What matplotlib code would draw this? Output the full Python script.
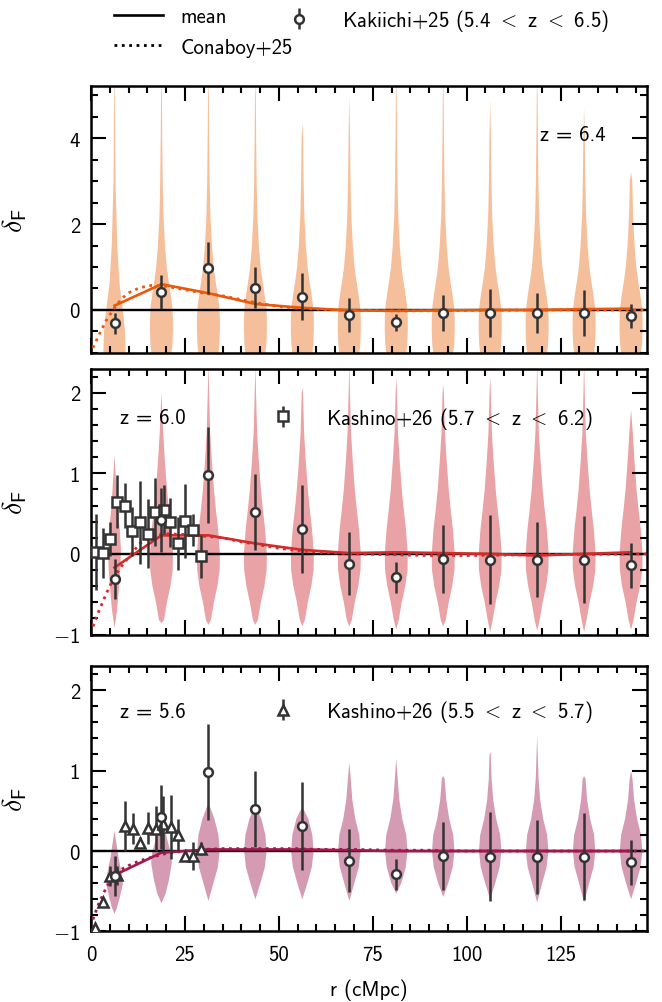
import numpy as np
import matplotlib
matplotlib.use("Agg")
import matplotlib.pyplot as plt
from matplotlib.ticker import MultipleLocator, FuncFormatter
from matplotlib.lines import Line2D

# ---------------------------------------------------------------- data
r_bins = [6.25, 18.75, 31.25, 43.75, 56.25, 68.75, 81.25, 93.75,
          106.25, 118.75, 131.25, 143.75]

# Kakiichi+25 (5.4 < z < 6.5)
kak_delta = [-0.31, 0.42, 0.98, 0.52, 0.31, -0.12, -0.29, -0.06,
             -0.07, -0.07, -0.07, -0.14]
kak_err = [0.25, 0.40, 0.60, 0.47, 0.55, 0.39, 0.19, 0.42,
           0.55, 0.46, 0.54, 0.28]

# Kashino+26 (5.7 < z < 6.2)
kas60_r = [1.2, 3.1, 5.1, 7.0, 9.1, 11.0, 13.1, 15.1, 17.0, 19.3,
           21.1, 23.1, 25.0, 27.1, 29.2]
kas60_delta = [0.02, 0.01, 0.18, 0.65, 0.60, 0.28, 0.39, 0.25, 0.52,
               0.55, 0.39, 0.13, 0.41, 0.30, -0.03]
kas60_err = [0.47, 0.31, 0.21, 0.33, 0.28, 0.30, 0.52, 0.43, 0.42,
             0.30, 0.30, 0.33, 0.46, 0.20, 0.27]

# Kashino+26 (5.5 < z < 5.7)
kas56_r = [1.1, 3.3, 5.1, 7.0, 9.1, 11.2, 13.1, 15.1, 17.2, 19.2,
           21.2, 23.1, 25.1, 27.1, 29.2]
kas56_delta = [-0.96, -0.63, -0.31, -0.30, 0.31, 0.28, 0.10, 0.29, 0.28,
               0.34, 0.30, 0.20, -0.06, -0.06, 0.03]
kas56_err = [0.05, 0.05, 0.12, 0.12, 0.31, 0.19, 0.08, 0.20, 0.28,
             0.35, 0.40, 0.20, 0.06, 0.17, 0.08]

# mean of the simulated distribution in each bin
mean_64 = [0.10, 0.60, 0.39, 0.14, 0.05, -0.01, -0.02, -0.01, 0.0, 0.0, 0.02, 0.03]
mean_60 = [-0.17, 0.23, 0.23, 0.13, 0.05, 0.01, 0.02, 0.01, 0.0, -0.02, 0.0, 0.02]
mean_56 = [-0.30, -0.02, 0.02, 0.02, 0.02, 0.01, 0.0, 0.0, 0.0, 0.0, 0.0, 0.0]

# Conaboy+25 model
con_r = [0.5, 2, 4, 6, 8, 10, 13, 16, 20, 25, 30, 35, 40, 45, 50, 55, 60,
         70, 80, 90, 100, 120, 148]
con_64 = [-0.88, -0.60, -0.25, 0.02, 0.25, 0.40, 0.52, 0.57, 0.55, 0.47, 0.39,
          0.33, 0.24, 0.15, 0.08, 0.04, 0.02, -0.01, -0.02, -0.02, -0.01, 0.0, 0.0]
con_60 = [-0.90, -0.72, -0.50, -0.30, -0.16, -0.04, 0.13, 0.22, 0.25, 0.24, 0.22,
          0.20, 0.15, 0.11, 0.07, 0.04, 0.02, 0.0, -0.01, -0.02, -0.02, -0.01, 0.0]
con_56 = [-0.85, -0.66, -0.46, -0.31, -0.23, -0.18, -0.12, -0.08, -0.03, 0.0, 0.02,
          0.03, 0.03, 0.03, 0.03, 0.03, 0.02, 0.02, 0.01, 0.01, 0.0, 0.0, 0.0]

# violin profiles: density (in width units) at delta_F levels
kde_lvl_64 = [-1.0, -0.8, -0.5, -0.2, 0.1, 0.4, 0.7, 1.0, 1.5, 2.2, 3.0, 4.0, 5.0]
kde_den_64 = [20, 22, 23, 23, 21.5, 18, 14, 10.5, 7, 4, 2.5, 1.5, 0.8]
kde_lvl_64_in = [-1.0, -0.5, -0.16, 0.62, 1.5, 3.0, 5.0]
kde_den_64_in = [22.3, 21, 18.3, 10, 5.5, 2.0, 0.7]
lo_64 = [-1.0] * 12
hi_64 = [5.4, 5.4, 5.4, 5.3, 4.35, 5.0, 5.4, 5.4, 4.9, 5.4, 4.7, 3.2]

kde_lvl_60 = [-0.82, -0.6, -0.4, -0.2, 0.0, 0.3, 0.55, 0.8, 1.17, 1.5, 2.0]
kde_den_60 = [5, 11, 18, 22.5, 23, 19.5, 15, 11, 6.7, 3.5, 1.3]
kde_lvl_60_in = [-0.7, -0.45, -0.2, 0.05, 0.3, 0.6, 0.9]
kde_den_60_in = [5, 8.5, 11.5, 13, 10.5, 6, 3]
lo_60 = [-0.92, -0.86, -0.88, -0.88, -0.9, -0.9, -0.94, -0.9, -0.97, -0.95, -0.97, -0.94]
hi_60 = [1.23, 2.0, 2.4, 2.35, 2.06, 2.4, 2.2, 2.1, 2.2, 2.4, 2.4, 1.79]

kde_lvl_56 = [-0.4, -0.2, 0.0, 0.2, 0.4, 0.64, 0.9, 1.2]
kde_den_56 = [10, 19, 22.5, 20, 12, 6, 2.8, 1.2]
kde_lvl_56_in = [-0.71, -0.59, -0.41, -0.29, -0.08, 0.13]
kde_den_56_in = [4.7, 10, 16.7, 14.7, 8, 3]
kde_lvl_56_b = [-0.53, -0.36, -0.15, -0.03, 0.14, 0.3]
kde_den_56_b = [8.3, 15, 20.7, 19, 11.7, 5]
lo_56 = [-0.78, -0.65, -0.62, -0.6, -0.6, -0.62, -0.53, -0.57, -0.6, -0.64, -0.64, -0.6]
hi_56 = [0.25, 0.5, 0.6, 0.56, 0.55, 1.1, 1.15, 0.93, 1.23, 1.44, 0.93, 1.0]

# ---------------------------------------------------------------- style
plt.rcParams.update({
    "font.family": ["cmss10", "DejaVu Sans"],
    "mathtext.fontset": "cm",
    "font.size": 15,
    "axes.linewidth": 1.8,
})

DARK = "#333333"
DENS_PER_CMPC = 3.76          # profile width units per cMpc


def tick_fmt(v, _):
    # math minus from the Computer Modern symbol font
    s = f"{abs(v):g}"
    return r"$-$" + s if v < 0 else s


panels = [
    dict(z="6.4", line="#e8590c", fill="#f5bf9b", mean=mean_64, con=con_64,
         prof=[(kde_lvl_64_in, kde_den_64_in)], gen=(kde_lvl_64, kde_den_64),
         lo=lo_64, hi=hi_64, ylim=(-1, 5.2), major=2, minor=0.5,
         pos=[0.1375, 0.6471, 0.8399, 0.2657]),
    dict(z="6.0", line="#d42a2a", fill="#e9a2a5", mean=mean_60, con=con_60,
         prof=[(kde_lvl_60_in, kde_den_60_in)], gen=(kde_lvl_60, kde_den_60),
         lo=lo_60, hi=hi_60, ylim=(-1, 2.3), major=1, minor=0.2,
         pos=[0.1375, 0.3664, 0.8399, 0.2652]),
    dict(z="5.6", line="#a3174f", fill="#d49bb3", mean=mean_56, con=con_56,
         prof=[(kde_lvl_56_in, kde_den_56_in), (kde_lvl_56_b, kde_den_56_b)],
         gen=(kde_lvl_56, kde_den_56),
         lo=lo_56, hi=hi_56, ylim=(-1, 2.3), major=1, minor=0.2,
         pos=[0.1375, 0.0703, 0.8399, 0.2647]),
]


def violin_stats(lvl, den, lo, hi, mean):
    lvl = np.asarray(lvl, float)
    den = np.asarray(den, float)
    keep = (lvl >= lo) & (lvl < hi)
    coords, vals = lvl[keep], den[keep]
    if coords[0] > lo:
        coords, vals = np.r_[lo, coords], np.r_[0.0, vals]
    coords, vals = np.r_[coords, hi], np.r_[vals, 0.0]
    return dict(coords=coords, vals=vals, mean=mean, median=mean,
                min=lo, max=hi)


fig = plt.figure(figsize=(6.62, 10.03), dpi=100)
axes = []
for i, p in enumerate(panels):
    ax = fig.add_axes(p["pos"])
    axes.append(ax)

    stats, widths = [], []
    for k in range(len(r_bins)):
        lvl, den = p["prof"][k] if k < len(p["prof"]) else p["gen"]
        s = violin_stats(lvl, den, p["lo"][k], p["hi"][k], p["mean"][k])
        stats.append(s)
        widths.append(s["vals"].max() / DENS_PER_CMPC)
    vp = ax.violin(stats, positions=r_bins, widths=widths,
                   showmeans=False, showextrema=False, showmedians=False)
    for body in vp["bodies"]:
        body.set_facecolor(p["fill"])
        body.set_edgecolor("none")
        body.set_linewidth(0)
        body.set_alpha(1)
        body.set_zorder(1)

    ax.axhline(0, color="black", lw=1.7, zorder=2)
    ax.plot(r_bins, p["mean"], color=p["line"], lw=1.9, zorder=3)
    ax.plot(con_r, p["con"], color=p["line"], lw=2.0, ls=":", zorder=3)

    if i == 1:
        kas = ax.errorbar(kas60_r, kas60_delta, yerr=kas60_err, fmt="s",
                          ms=6.5, mfc="white", mec=DARK, mew=1.8, ecolor=DARK,
                          elinewidth=1.8, capsize=0, zorder=4)
        lab = "Kashino+26 (5.7 $<$ z $<$ 6.2)"
    elif i == 2:
        kas = ax.errorbar(kas56_r, kas56_delta, yerr=kas56_err, fmt="^",
                          ms=7.5, mfc="white", mec=DARK, mew=1.8, ecolor=DARK,
                          elinewidth=1.8, capsize=0, zorder=4)
        lab = "Kashino+26 (5.5 $<$ z $<$ 5.7)"

    kak = ax.errorbar(r_bins, kak_delta, yerr=kak_err, fmt="o", ms=6.3,
                      mfc="white", mec=DARK, mew=1.8, ecolor=DARK,
                      elinewidth=1.8, capsize=0, zorder=5)

    if i == 0:
        ax.text(0.925, 0.818, "z = " + p["z"], transform=ax.transAxes,
                ha="right", va="center")
    else:
        ytxt = 0.815 if i == 1 else 0.83
        ax.text(0.052, ytxt, "z = " + p["z"], transform=ax.transAxes,
                ha="left", va="center")
        ax.legend([kas], [lab], loc="center left", frameon=False,
                  bbox_to_anchor=(0.302, ytxt), borderaxespad=0, borderpad=0,
                  handlelength=2.35, handletextpad=0.85)

    ax.set_xlim(0, 148)
    ax.set_ylim(*p["ylim"])
    ax.xaxis.set_major_locator(MultipleLocator(25))
    ax.xaxis.set_minor_locator(MultipleLocator(5))
    ax.yaxis.set_major_locator(MultipleLocator(p["major"]))
    ax.yaxis.set_minor_locator(MultipleLocator(p["minor"]))
    ax.xaxis.set_major_formatter(FuncFormatter(tick_fmt))
    ax.yaxis.set_major_formatter(FuncFormatter(tick_fmt))
    ax.tick_params(which="both", direction="in", top=True, right=True,
                   width=1.5)
    ax.tick_params(which="major", length=10.5, pad=8)
    ax.tick_params(axis="x", which="major", pad=10)
    ax.tick_params(which="minor", length=5.2)
    ax.set_ylabel(r"$\delta_\mathsf{F}$", fontsize=20)
    ax.yaxis.set_label_coords(-0.112, 0.5)
    if i < 2:
        ax.tick_params(labelbottom=False)

axes[-1].set_xlabel("r (cMpc)", labelpad=10)

# figure legend above the panels
h_mean = Line2D([], [], color="black", lw=1.9)
h_con = Line2D([], [], color="black", lw=2.0, ls=":")
fig.legend([h_mean, h_con], ["mean", "Conaboy+25"], loc="upper left",
           bbox_to_anchor=(114 / 662, 1 - 8 / 1003), frameon=False,
           borderaxespad=0, borderpad=0, handlelength=2.35,
           handletextpad=0.85, labelspacing=0.55)
fig.legend([kak], ["Kakiichi+25 (5.4 $<$ z $<$ 6.5)"], loc="upper left",
           bbox_to_anchor=(275 / 662, 1 - 8 / 1003), frameon=False,
           borderaxespad=0, borderpad=0, handlelength=2.35,
           handletextpad=0.85)

fig.savefig("out.png", dpi=100)
